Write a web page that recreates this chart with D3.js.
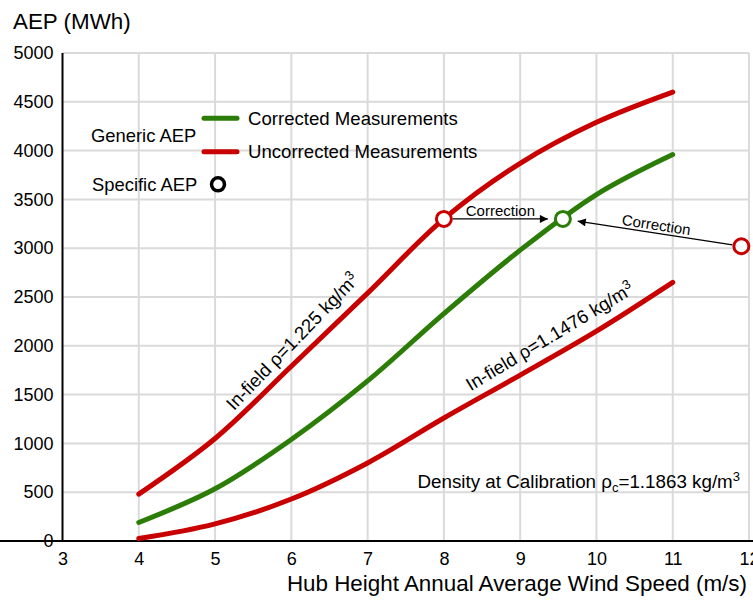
<!DOCTYPE html>
<html>
<head>
<meta charset="utf-8">
<script src="https://cdn.jsdelivr.net/npm/d3@7"></script>
<style>
  body { margin: 0; background: #fff; }
  svg { display: block; font-family: "Liberation Sans", Arial, sans-serif; }
</style>
</head>
<body>
<svg id="chart" width="753" height="600"></svg>
<script>
// ---- data ----
const speeds = [4, 5, 6, 7, 8, 9, 10, 11];
const corrected = [190, 535, 1040, 1640, 2330, 2980, 3550, 3960];
const uncorrectedHigh = [480, 1050, 1790, 2540, 3300, 3870, 4290, 4600];
const uncorrectedLow = [25, 175, 430, 800, 1260, 1700, 2150, 2650];
const specificX = [8, 9.56, 11.9];
const specificY = [3300, 3300, 3020];
const specificKind = ["uncorrected", "corrected", "uncorrected"];
const xTicks = [3, 4, 5, 6, 7, 8, 9, 10, 11, 12];
const yTicks = [0, 500, 1000, 1500, 2000, 2500, 3000, 3500, 4000, 4500, 5000];

const RED = "#c80000", GREEN = "#2b7d08";
const svg = d3.select("#chart");
svg.append("rect").attr("width", 753).attr("height", 600).attr("fill", "#fff");

const x = d3.scaleLinear().domain([3, 12]).range([62.5, 749]);
const y = d3.scaleLinear().domain([0, 5000]).range([541, 53]);

// grid
const grid = svg.append("g").attr("stroke", "#dadada").attr("stroke-width", 2);
grid.selectAll("line.v").data(xTicks.slice(1)).join("line")
  .attr("x1", d => x(d)).attr("x2", d => x(d)).attr("y1", y(0)).attr("y2", y(5000));
grid.selectAll("line.h").data(yTicks.slice(1)).join("line")
  .attr("x1", x(3)).attr("x2", x(12)).attr("y1", d => y(d)).attr("y2", d => y(d));

// axes
const xAxis = svg.append("g").attr("transform", `translate(0,${y(0)})`)
  .call(d3.axisBottom(x).tickValues(xTicks).tickFormat(d3.format("d")).tickSize(0).tickPadding(11));
const yAxis = svg.append("g").attr("transform", `translate(${x(3)},0)`)
  .call(d3.axisLeft(y).tickValues(yTicks).tickFormat(d3.format("d")).tickSize(0).tickPadding(9));
[xAxis, yAxis].forEach(a => {
  a.select(".domain").attr("stroke", "#000").attr("stroke-width", 2);
  a.selectAll("text").attr("font-size", 18).attr("fill", "#000")
    .attr("font-family", '"Liberation Sans", Arial, sans-serif');
});
xAxis.select(".domain").attr("d", `M0,0H753`);
yAxis.select(".domain").attr("d", `M0,${y(5000)}V${y(0)}`);

svg.append("text").attr("x", 13).attr("y", 28.5).attr("font-size", 22.4).text("AEP (MWh)");
svg.append("text").attr("x", 747).attr("y", 591).attr("text-anchor", "end").attr("font-size", 22.4)
  .text("Hub Height Annual Average Wind Speed (m/s)");

// curves
const line = d3.line().x(d => x(d[0])).y(d => y(d[1])).curve(d3.curveCatmullRom.alpha(0.5));
const series = [
  { vals: uncorrectedLow, color: RED },
  { vals: corrected, color: GREEN },
  { vals: uncorrectedHigh, color: RED }
];
svg.append("g").selectAll("path").data(series).join("path")
  .attr("d", s => line(speeds.map((v, i) => [v, s.vals[i]])))
  .attr("fill", "none").attr("stroke", s => s.color).attr("stroke-width", 5)
  .attr("stroke-linecap", "round");

// arrows
const defs = svg.append("defs");
defs.append("marker").attr("id", "ah").attr("viewBox", "0 0 10 10").attr("refX", 10).attr("refY", 5)
  .attr("markerWidth", 10).attr("markerHeight", 8).attr("markerUnits", "userSpaceOnUse").attr("orient", "auto")
  .append("path").attr("d", "M0,0L10,5L0,10Z").attr("fill", "#000");

const arrowPairs = [[0, 1], [2, 1]];
arrowPairs.forEach(([a, b]) => {
  const x1 = x(specificX[a]), y1 = y(specificY[a]);
  const x2 = x(specificX[b]), y2 = y(specificY[b]);
  const L = Math.hypot(x2 - x1, y2 - y1);
  const ux = (x2 - x1) / L, uy = (y2 - y1) / L;
  const sx = x1 + ux * 9, sy = y1 + uy * 9, ex = x2 - ux * 15, ey = y2 - uy * 15;
  svg.append("line").attr("x1", sx).attr("y1", sy).attr("x2", ex).attr("y2", ey)
    .attr("stroke", "#000").attr("stroke-width", 1.3).attr("marker-end", "url(#ah)");
  const mx = (sx + ex) / 2, my = (sy + ey) / 2;
  let ang = Math.atan2(ey - sy, ex - sx) * 180 / Math.PI;
  if (ang > 90 || ang < -90) ang += 180;
  svg.append("text").attr("transform", `translate(${mx},${my}) rotate(${ang})`)
    .attr("y", -3).attr("text-anchor", "middle").attr("font-size", 15).text("Correction");
});

// specific points
svg.append("g").selectAll("circle").data(specificX).join("circle")
  .attr("cx", d => x(d)).attr("cy", (d, i) => y(specificY[i])).attr("r", 7.5)
  .attr("fill", "#fff").attr("stroke-width", 3)
  .attr("stroke", (d, i) => specificKind[i] === "corrected" ? GREEN : RED);

// legend
svg.append("text").attr("x", 91).attr("y", 141.5).attr("font-size", 18.4).text("Generic AEP");
svg.append("text").attr("x", 92).attr("y", 190.5).attr("font-size", 18.4).text("Specific AEP");
const legItems = [
  { label: "Corrected Measurements", color: GREEN, yy: 118.3 },
  { label: "Uncorrected Measurements", color: RED, yy: 151.7 }
];
legItems.forEach(it => {
  svg.append("line").attr("x1", 204).attr("x2", 237).attr("y1", it.yy).attr("y2", it.yy)
    .attr("stroke", it.color).attr("stroke-width", 5).attr("stroke-linecap", "round");
  svg.append("text").attr("x", 248).attr("y", it.yy + 6.3).attr("font-size", 18.6).text(it.label);
});
svg.append("circle").attr("cx", 218).attr("cy", 184.3).attr("r", 6.5)
  .attr("fill", "#fff").attr("stroke", "#000").attr("stroke-width", 3.5);

// annotations
function rhoLabel(cx, cy, ang, value) {
  const t = svg.append("text").attr("transform", `translate(${cx},${cy}) rotate(${ang})`)
    .attr("text-anchor", "middle").attr("font-size", 18.6);
  t.append("tspan").text(`In-field ρ=${value} kg/m`);
  t.append("tspan").attr("dy", -7).attr("font-size", 13).text("3");
}
rhoLabel(297, 346, -46, "1.225");
rhoLabel(553, 342, -31, "1.1476");

const dens = svg.append("text").attr("x", 740).attr("y", 487.5).attr("text-anchor", "end").attr("font-size", 18.8);
dens.append("tspan").text("Density at Calibration ρ");
dens.append("tspan").attr("dy", 4).attr("font-size", 13).text("c");
dens.append("tspan").attr("dy", -4).text("=1.1863 kg/m");
dens.append("tspan").attr("dy", -7).attr("font-size", 13).text("3");
</script>
</body>
</html>
